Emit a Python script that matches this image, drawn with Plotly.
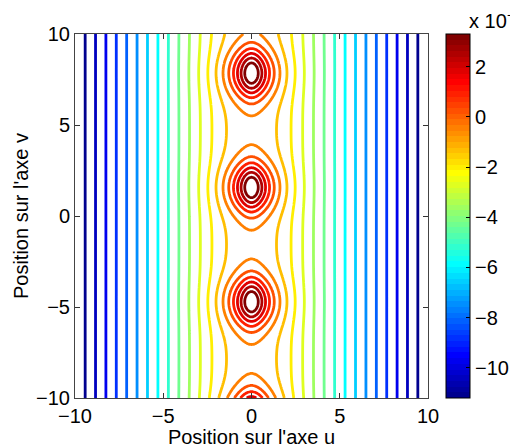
import numpy as np
import plotly.graph_objects as go

# ---------------- data (units of 1e-6) ----------------
u_range = [-10, 10]
v_range = [-10, 10]
x_tick_vals = [-10, -5, 0, 5, 10]
y_tick_vals = [-10, -5, 0, 5, 10]
cbar_tick_vals = [-10, -8, -6, -4, -2, 0, 2]
z_min = -11.2
z_max = 3.3
n_levels = 20

# field model parameters fitted to the contour positions read in the picture
far_offset = 0.68        # far-field value extrapolated to u = 0
far_slope = 1.182        # far-field slope |df/du|
far_core = 0.9           # rounding of the central ridge
mean_amp = -0.666        # v-averaged central correction
mean_var = 1.96
peak_centers_v = [-17.28, -11.0, -4.71, 1.57, 7.85, 14.14]   # maxima along u = 0
peak_amp = 4.35
peak_core = 0.6
peak_decay_lin = 1.4
peak_decay_quad = 0.03
peak_sigma_v = 0.952

x_title = "Position sur l'axe u"
y_title = "Position sur l'axe v"
exponent_label = "x 10<sup>\u22126</sup>"

# ---------------- field ----------------
u = np.linspace(u_range[0], u_range[1], 401)
v = np.linspace(v_range[0], v_range[1], 401)
U, V = np.meshgrid(u, v)
G = (far_offset - far_slope * np.sqrt(U ** 2 + far_core ** 2)
     + mean_amp * np.exp(-U ** 2 / mean_var))
psi = peak_decay_lin * (np.sqrt(U ** 2 + peak_core ** 2) - peak_core) + peak_decay_quad * U ** 2
E = np.zeros_like(V)
for vc in peak_centers_v:
    E += np.exp(-(V - vc) ** 2 / (2 * peak_sigma_v ** 2))
Z = G + peak_amp * np.exp(-psi) * E

dz = (z_max - z_min) / (n_levels + 1)


# ---------------- MATLAB jet(64), stepped ----------------
def matlab_jet(n=64):
    m = int(np.ceil(n / 4))
    uu = np.concatenate([np.arange(1, m + 1) / m, np.ones(m - 1), np.arange(m, 0, -1) / m])
    g = int(np.ceil(m / 2)) - (1 if n % 4 == 1 else 0) + np.arange(1, len(uu) + 1)
    rI = g + m
    bI = g - m
    J = np.zeros((n, 3))
    mask = rI <= n
    J[rI[mask] - 1, 0] = uu[mask]
    mask = g <= n
    J[g[mask] - 1, 1] = uu[mask]
    mask = bI >= 1
    J[bI[mask] - 1, 2] = uu[mask]
    return J


J = matlab_jet(64)
jet_scale = []
for i, c in enumerate(J):
    col = "rgb(%d,%d,%d)" % tuple(int(round(255 * t)) for t in c)
    jet_scale.append([i / 64, col])
    jet_scale.append([(i + 1) / 64, col])

fig = go.Figure()
fig.add_trace(go.Contour(
    x=u, y=v, z=Z,
    autocontour=False,
    contours=dict(start=z_min + dz, end=z_min + n_levels * dz + 1e-9, size=dz, coloring="lines"),
    line=dict(width=2.8, smoothing=1),
    colorscale=jet_scale, zauto=False, zmin=z_min, zmax=z_max,
    showscale=False, hoverinfo="skip",
))

# colour bar (continuous, like MATLAB's)
fig.add_trace(go.Scatter(
    x=[None], y=[None], mode="markers", showlegend=False, hoverinfo="skip",
    marker=dict(
        color=[z_min, z_max], cmin=z_min, cmax=z_max, colorscale=jet_scale, showscale=True,
        colorbar=dict(
            x=(446 - 75) / 353, xanchor="left", xref="paper",
            y=0.5, yanchor="middle", len=1.0, lenmode="fraction",
            thickness=24, thicknessmode="pixels",
            outlinewidth=1, outlinecolor="black",
            ticks="inside", ticklen=4, tickcolor="black",
            tickvals=cbar_tick_vals,
            tickfont=dict(size=20, color="black"),
            ypad=0, xpad=0,
        ),
    ),
))

axis_common = dict(
    ticks="inside", ticklen=5, tickcolor="#333", showline=True, linecolor="#444",
    linewidth=1, mirror="ticks", showgrid=False, zeroline=False,
    tickfont=dict(size=20, color="black"),
)

# the page adds an 8 px body margin, so the figure is 510x440 with shifted margins
fig.update_layout(
    width=510, height=440,
    margin=dict(l=67, r=90, t=26, b=50, autoexpand=False),
    paper_bgcolor="white", plot_bgcolor="white",
    font=dict(family="Liberation Sans, Arial, Helvetica, sans-serif", size=20, color="black"),
    xaxis=dict(range=u_range, tickvals=x_tick_vals,
               title=dict(text=x_title, font=dict(size=20), standoff=0), **axis_common),
    yaxis=dict(range=v_range, tickvals=y_tick_vals,
               title=dict(text=y_title, font=dict(size=20), standoff=2), **axis_common),
    showlegend=False,
    annotations=[dict(text=exponent_label, xref="paper", yref="paper",
                      x=(467 - 75) / 353, y=1.0, xanchor="left", yanchor="bottom",
                      showarrow=False, font=dict(size=20, color="black"))],
)

fig.write_html("out.html")
